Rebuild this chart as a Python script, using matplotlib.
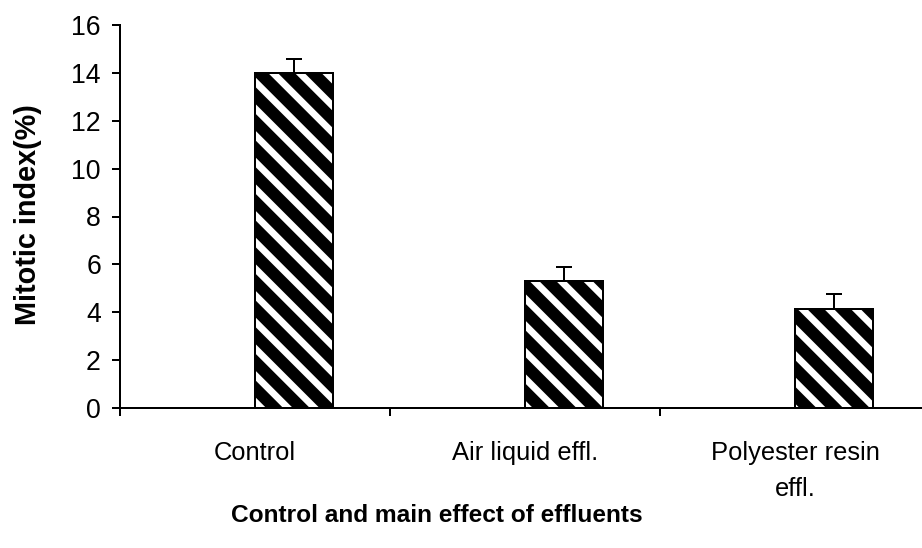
import matplotlib
matplotlib.use("Agg")
import matplotlib.pyplot as plt

# data
categories = ["Control", "Air liquid effl.", "Polyester resin\neffl."]
mitotic_index = [14.0, 5.3, 4.15]
err_up = [0.6, 0.6, 0.6]
yticks = [0, 2, 4, 6, 8, 10, 12, 14, 16]

DPI = 160
plt.rcParams['font.family'] = ['Liberation Sans', 'DejaVu Sans']
plt.rcParams['hatch.linewidth'] = 5.4
plt.rcParams['hatch.color'] = 'black'

fig = plt.figure(figsize=(922 / DPI, 548 / DPI), dpi=DPI)
ax = fig.add_axes([120 / 922, 1 - 408 / 548, 1 - 120 / 922, (408 - 25) / 548])

# bars sit in the right half of each category slot (excel style)
x = [i + 0.5 for i in range(len(categories))]
ax.bar(x, mitotic_index, width=0.29, align='edge', color='white',
       edgecolor='black', linewidth=0.9, hatch='\\\\', zorder=2)
ax.errorbar([v + 0.145 for v in x], mitotic_index,
            yerr=[[0] * len(err_up), err_up], fmt='none', ecolor='black',
            elinewidth=0.9, capsize=3.6, capthick=0.9, zorder=3)

ax.set_xlim(0, 802 / 270)
ax.set_ylim(0, 16)
ax.set_yticks(yticks)
ax.set_xticks([0, 1, 2])
ax.set_xticklabels([])
ax.set_xticks(x, minor=True)
ax.set_xticklabels(categories, minor=True, fontsize=11.5, linespacing=1.6)
ax.tick_params(axis='x', which='minor', length=0, pad=15)
ax.tick_params(axis='x', which='major', length=3.6, width=0.9, direction='out')
ax.tick_params(axis='y', length=3.6, width=0.9, direction='out', labelsize=12, pad=5)

for s in ['top', 'right']:
    ax.spines[s].set_visible(False)
for s in ['left', 'bottom']:
    ax.spines[s].set_linewidth(0.9)

fig.text(28 / 922, 1 - 215 / 548, "Mitotic index(%)", rotation=90,
         ha='center', va='center', fontsize=13, fontweight='bold')
fig.text(437 / 922, 1 - 516 / 548, "Control and main effect of effluents",
         ha='center', va='center', fontsize=11, fontweight='bold')

fig.savefig("out.png", dpi=DPI)
